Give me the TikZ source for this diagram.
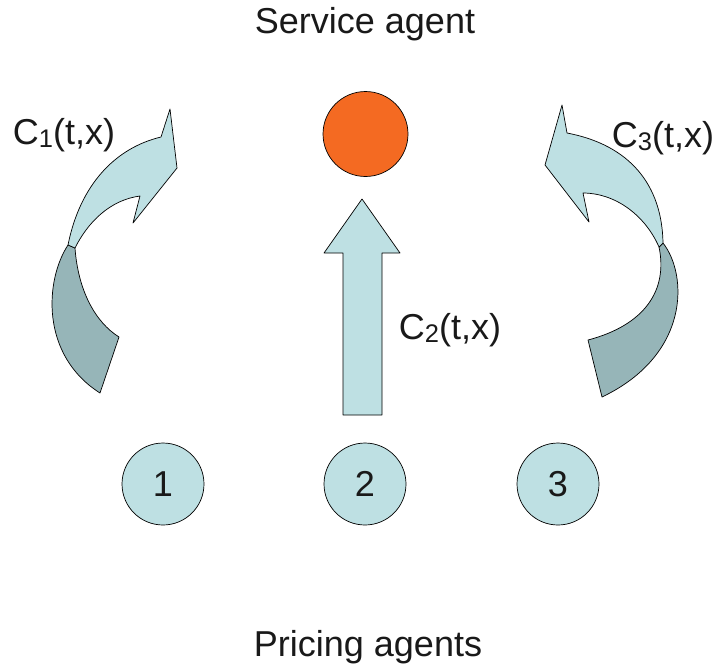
\documentclass[tikz,border=0pt]{standalone}
\usepackage{fontspec}
\setmainfont{Liberation Sans}
\usepackage{tikz}
\usetikzlibrary{positioning}

\definecolor{agentblue}{HTML}{BEE0E3}
\definecolor{agentdark}{HTML}{96B5B8}
\definecolor{agentorange}{HTML}{F46A22}
\newcommand{\csub}[1]{\raisebox{-0.15ex}{\fontsize{14.5}{16}\selectfont #1}}

\begin{document}
\begin{tikzpicture}[
                x=0.02cm, y=-0.02cm,
                every node/.style={font=\fontsize{20.5}{24}\selectfont, text=black!90},
                agent/.style={draw, circle, fill=agentblue, minimum size=1.64cm, inner sep=0pt},
                service/.style={draw, circle, fill=agentorange, minimum size=1.7cm, inner sep=0pt},
                flow/.style={draw, fill=agentblue, line join=round},
                back/.style={draw, fill=agentdark, line join=round}]

            \useasboundingbox (0,0) rectangle (719,670);

            % Agents
            \node (title) at (365,24) {Service agent};
            \node[service] (sa) at (365.5,134) {};
            \node[agent] (p1) at (163,484) {1};
            \node[agent] (p2) at (365,484) {2};
            \node[agent] (p3) at (558,484) {3};
            \node (pricing) at (368,647) {Pricing agents};

            % Fleches
            \draw[back] (68,245) .. controls (45,280) and (40,355) .. (100,393) -- (119,337)
                .. controls (95,322) and (78,290) .. (75,248) -- cycle;
            \draw[flow] (68,245) .. controls (80,185) and (115,148) .. (161,137) -- (170,109)
                -- (177,168) -- (133,223) -- (140,196) .. controls (110,200) and (88,222) .. (75,248) -- cycle;

            \draw[flow] (343,415) -- (343,253) -- (324,253) -- (362,199) -- (400,253)
                -- (382,253) -- (382,415) -- cycle;

            \draw[back] (663,243) .. controls (688,275) and (690,355) .. (602,397) -- (588,340)
                .. controls (645,325) and (668,290) .. (659,247) -- cycle;
            \draw[flow] (663,243) .. controls (662,185) and (630,145) .. (567,133) -- (562,105)
                -- (545,165) -- (589,222) -- (583,193) .. controls (615,193) and (645,215) .. (659,247) -- cycle;

            % Etiquettes
            \node (c1) at (64,135) {C\csub{1}(t,x)};
            \node (c2) at (450,330) {C\csub{2}(t,x)};
            \node (c3) at (663,138) {C\csub{3}(t,x)};

        \end{tikzpicture}
\end{document}
